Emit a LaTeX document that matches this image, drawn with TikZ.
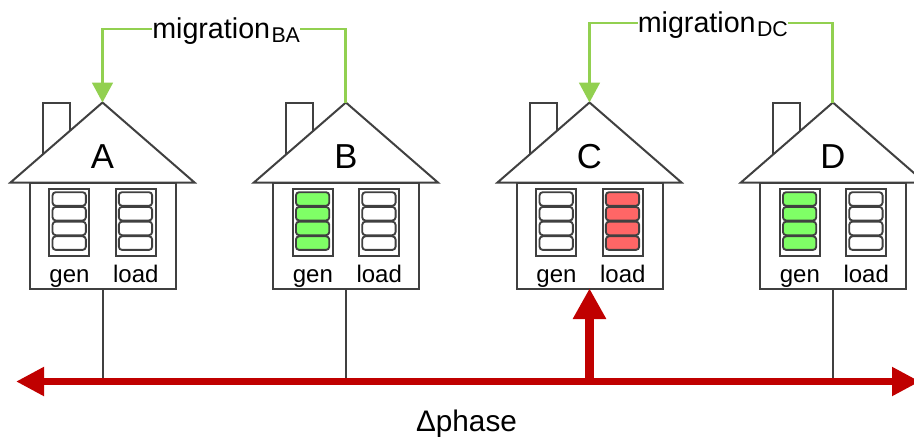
\documentclass[tikz,border=0pt]{standalone}
\usepackage{fontspec}
\setmainfont{Liberation Sans}
\usetikzlibrary{arrows.meta}
\definecolor{wall}{HTML}{404040}
\definecolor{mig}{HTML}{92D050}
\definecolor{busred}{HTML}{C00000}
\definecolor{cellgreen}{HTML}{7FFF66}
\definecolor{cellred}{HTML}{FF6666}
\tikzset{
  x=0.75pt,y=-0.75pt,
  housepart/.style={draw=wall,line width=1.5pt,line join=miter,fill=white},
  housebody/.style={housepart,minimum width=109.5pt,minimum height=80pt,inner sep=0pt},
  battery/.style={draw=wall,line width=1.5pt,fill=white,minimum width=30pt,minimum height=50pt,inner sep=0pt},
  cell/.style={draw=wall,line width=1.4pt,rounded corners=2.4pt,minimum width=25pt,minimum height=10.2pt,inner sep=0pt},
  housename/.style={font=\fontsize{26}{30}\selectfont,inner sep=0pt,anchor=base},
  small/.style={font=\fontsize{18}{20}\selectfont,inner sep=0pt,anchor=base},
  miglabel/.style={font=\fontsize{21.5}{26}\selectfont,inner sep=0pt,text height=16.5pt,text depth=3pt,anchor=base west},
  migline/.style={draw=mig,line width=2.2pt},
  migarrow/.style={migline,-{Triangle[length=15pt,width=15.5pt]}},
  feeder/.style={draw=wall,line width=1.5pt},
  bus/.style={draw=busred,line width=5.2pt,{Triangle[length=21pt,width=20.5pt]}-{Triangle[length=21pt,width=20.5pt]}},
  riser/.style={draw=busred,line width=6.4pt,shorten >=-1.5pt,-{Triangle[length=23pt,width=23.5pt]}},
  buslabel/.style={font=\fontsize{22.3}{26}\selectfont,inner sep=0pt,anchor=base}
}
\begin{document}
\begin{tikzpicture}
\useasboundingbox (0,0) rectangle (914,436);
\clip (0,0) rectangle (914,436);
\coordinate (busL) at (16,381.5);
\coordinate (busR) at (920,381.5);
\foreach \n/\x/\g/\l in {A/0/white/white,B/243.4/cellgreen/white,C/487/white/cellred,D/730.4/cellgreen/white}{
  \begin{scope}[shift={(\x,0)}]
    \coordinate (apex\n) at (102.5,102.5);
    \coordinate (tap\n) at (102.5,381.5);
    \draw[housepart] (42.5,154) -- (42.5,102.5) -- (69.5,102.5) -- (69.5,133);
    \draw[housepart] (apex\n) -- (194.5,182.5) -- (10.5,182.5) -- cycle;
    \node[housebody] (body\n) at (102.5,236) {};
    \node[battery] (genbat\n) at (69.2,222.7) {};
    \node[battery] (loadbat\n) at (135.5,222.7) {};
    \foreach \k/\yy in {1/199,2/213.7,3/228.4,4/243.1}{
      \node[cell,fill=\g] (gencell\n\k) at (69.2,\yy) {};
      \node[cell,fill=\l] (loadcell\n\k) at (135.5,\yy) {};
    }
    \node[housename] (name\n) at (102.5,168) {\n};
    \node[small] (gen\n) at (69.5,282) {gen};
    \node[small] (load\n) at (135.8,282) {load};
  \end{scope}
}
\foreach \n in {A,B,D}{\draw[feeder] (body\n.south) -- (tap\n);}
\node[miglabel] (migBA) at (152,38) {migration\kern1pt\raisebox{-3.5pt}{\fontsize{16}{18}\selectfont BA}};
\node[miglabel] (migDC) at (637.5,32) {migration\kern1pt\raisebox{-3.5pt}{\fontsize{16}{18}\selectfont DC}};
\draw[migarrow] (migBA.west) -| (apexA);
\draw[migline] (migBA.east) -| (apexB);
\draw[migarrow] (migDC.west) -| (apexC);
\draw[migline] (migDC.east) -| (apexD);
\draw[riser] (tapC) -- (bodyC.south);
\draw[bus] (busL) -- (busR);
\node[buslabel] (phase) at (466.5,431) {Δphase};
\end{tikzpicture}
\end{document}
